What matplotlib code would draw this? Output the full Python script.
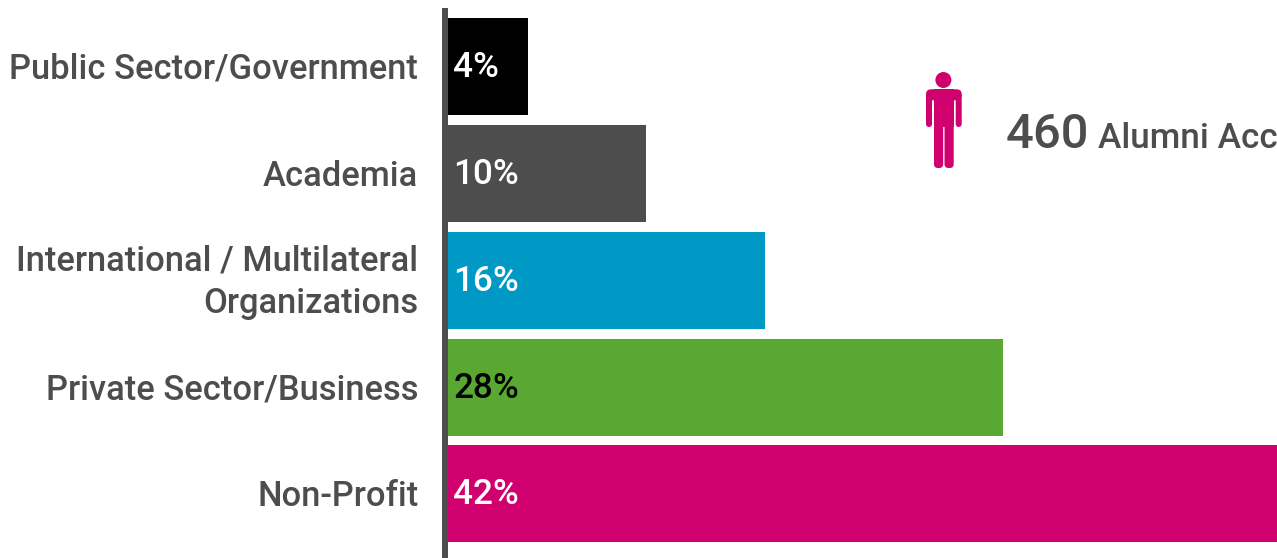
import matplotlib
matplotlib.use("Agg")
import matplotlib.pyplot as plt
from matplotlib.patches import Circle, FancyBboxPatch

W, H = 1277, 558
categories = ["Public Sector/Government", "Academia", "International / Multilateral\nOrganizations", "Private Sector/Business", "Non-Profit"]
values = [4.04, 10, 16, 28, 42]
colors = ["#000000", "#4d4d4d", "#0099c6", "#58a831", "#d0006f"]
label_colors = ["white", "white", "white", "black", "white"]
total_text = "460"
total_caption = "Alumni Acc"

plt.rcParams["font.family"] = "Roboto"
fig = plt.figure(figsize=(W/100, H/100), dpi=100)
ax = fig.add_axes([0, 0, 1, 1])
xmin = -448/19.83
ax.set_xlim(xmin, xmin + W/19.83)
ax.set_ylim(H, 0)
ypos = [66.5, 173.5, 280.5, 387.5, 493.5]
ax.barh(ypos, values, height=97, color=colors, left=0)
for y, v, c, lc in zip(ypos, values, categories, label_colors):
    ax.text(0.27, y+10.3, f"{v:.0f}%", color=lc, fontsize=25.3, fontweight="medium", va="baseline", ha="left")
    if "\n" in c:
        ax.text(-1.5, y+32.5, c, color="#4d4d4d", fontsize=24.85, fontweight="medium", va="baseline", ha="right", linespacing=1.36)
    else:
        ax.text(-1.5, y+12, c, color="#4d4d4d", fontsize=24.85, fontweight="medium", va="baseline", ha="right")
ax.axis("off")

ov = fig.add_axes([0, 0, 1, 1])
ov.set_xlim(0, W); ov.set_ylim(H, 0); ov.axis("off"); ov.patch.set_alpha(0)
ov.plot([445, 445], [8, 558], color="#4d4d4d", lw=4.32, solid_capstyle="butt")
pink = "#d0006f"
def rr(x, y, w, h, r):
    ov.add_patch(FancyBboxPatch((x, y), w, h, boxstyle=f"round,pad=0,rounding_size={r}", color=pink, lw=0))
ov.add_patch(Circle((943.4, 80), 8, color=pink, lw=0))
rr(926, 89.3, 35.7, 11, 5)          # shoulders
rr(926, 93, 6, 34, 3)               # left arm
rr(955.7, 93, 6, 34, 3)             # right arm
ov.add_patch(plt.Rectangle((934, 89.3), 19.7, 38, color=pink, lw=0))  # torso
rr(934, 115, 9.2, 53, 4)            # left leg
rr(944.5, 115, 9.2, 53, 4)          # right leg
ov.text(1006, 148, total_text, color="#4d4d4d", fontsize=35.2, fontweight="medium", va="baseline", ha="left")
ov.text(1098, 148, total_caption, color="#4d4d4d", fontsize=25.3, fontweight="medium", va="baseline", ha="left", clip_on=True)
fig.savefig("out.png", dpi=100)
